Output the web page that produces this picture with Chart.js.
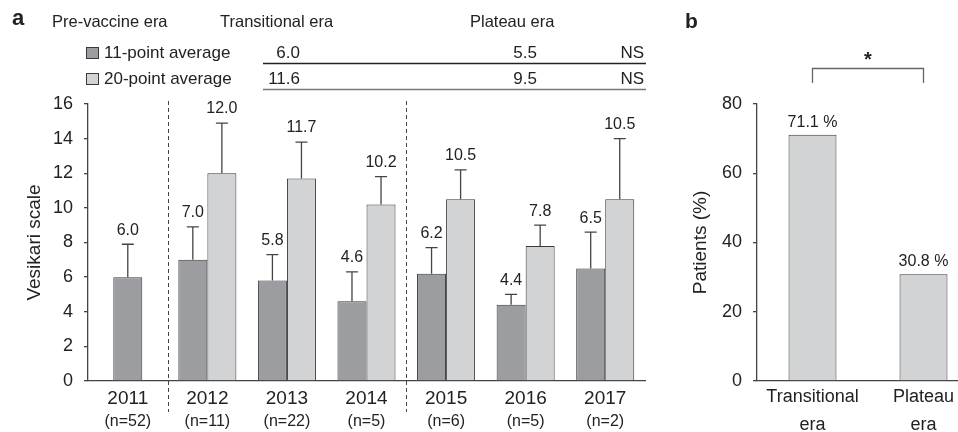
<!DOCTYPE html>
<html><head><meta charset="utf-8">
<script src="https://cdn.jsdelivr.net/npm/chart.js@4.4.1/dist/chart.umd.min.js"></script>
<style>
html,body{margin:0;padding:0;background:#fff;overflow:hidden;width:958px;height:432px;position:relative}
canvas{position:absolute;top:0}
#ca{left:0}
#cb{left:660px}
</style></head>
<body>
<canvas id="ca" width="660" height="432"></canvas>
<canvas id="cb" width="340" height="432"></canvas>
<script>
// ---- Panel a data ----
const years = ['2011','2012','2013','2014','2015','2016','2017'];
const nLabels = ['(n=52)','(n=11)','(n=22)','(n=5)','(n=6)','(n=5)','(n=2)'];
const avg11 = [6.0, 7.0, 5.8, 4.6, 6.2, 4.4, 6.5];
const avg20 = [null, 12.0, 11.7, 10.2, 10.5, 7.8, 10.5];
const sd11 = [1.9, 1.9, 1.5, 1.7, 1.5, 0.6, 2.1];
const sd20 = [null, 2.9, 2.1, 1.6, 1.7, 1.2, 3.5];
const seriesNames = ['11-point average', '20-point average'];
const eraNames = ['Pre-vaccine era', 'Transitional era', 'Plateau era'];
const eraDividersAfter = [0, 3];
const transitionalMeans = ['6.0', '11.6'];
const plateauMeans = ['5.5', '9.5'];
const significance = ['NS', 'NS'];
const yTicksA = [0, 16, 2];
// ---- Panel b data ----
const erasB = [['Transitional', 'era'], ['Plateau', 'era']];
const patientsPct = [71.1, 30.8];
const yTicksB = [0, 80, 20];
const starLabel = '*';

const FONT = '"Liberation Sans", Arial, Helvetica, sans-serif';
const TXT = '#222';
const AX = '#444';
const DARK = '#9c9da1';
const LIGHT = '#d2d3d5';
const EDGE = '#3a3a3a';
Chart.defaults.font.family = FONT;
Chart.defaults.color = TXT;
Chart.defaults.animation = false;

const sdSets = [sd11, sd20];

const errPlugin = {
  id: 'err',
  afterDatasetsDraw(chart) {
    const ctx = chart.ctx, y = chart.scales.y;
    chart.data.datasets.forEach((ds, di) => {
      const meta = chart.getDatasetMeta(di);
      const sd = sdSets[di];
      meta.data.forEach((bar, i) => {
        const v = ds.data[i];
        if (v == null) return;
        const base = y.getPixelForValue(v);
        const top = y.getPixelForValue(v + sd[i]);
        ctx.save();
        ctx.strokeStyle = AX; ctx.lineWidth = 1.3;
        ctx.beginPath();
        ctx.moveTo(bar.x, base); ctx.lineTo(bar.x, top);
        ctx.moveTo(bar.x - 6, top); ctx.lineTo(bar.x + 6, top);
        ctx.stroke();
        ctx.fillStyle = TXT; ctx.font = '16px ' + FONT;
        ctx.textAlign = 'center'; ctx.textBaseline = 'middle';
        ctx.fillText(v.toFixed(1), bar.x, top - 14);
        ctx.restore();
      });
    });
  }
};

const decorA = {
  id: 'decorA',
  afterDraw(chart) {
    const ctx = chart.ctx, x = chart.scales.x, ca = chart.chartArea;
    ctx.save();
    // era dividers
    ctx.strokeStyle = AX; ctx.lineWidth = 1; ctx.setLineDash([4, 3]);
    eraDividersAfter.forEach(i => {
      const px = Math.round((x.getPixelForValue(i) + x.getPixelForValue(i + 1)) / 2) + 0.5;
      ctx.beginPath(); ctx.moveTo(px, ca.top - 3); ctx.lineTo(px, 412); ctx.stroke();
    });
    ctx.setLineDash([]);
    // n labels
    ctx.fillStyle = TXT; ctx.font = '16px ' + FONT; ctx.textAlign = 'center'; ctx.textBaseline = 'middle';
    nLabels.forEach((t, i) => ctx.fillText(t, x.getPixelForValue(i), 422));
    // panel letter
    ctx.textAlign = 'left'; ctx.textBaseline = 'alphabetic';
    ctx.font = 'bold 22px ' + FONT; ctx.fillText('a', 12, 25);
    // era headers
    ctx.font = '16.5px ' + FONT;
    const eraX = [52, 220, 470];
    eraNames.forEach((t, i) => ctx.fillText(t, eraX[i], 27));
    // legend rows
    const rowBase = [58, 84];
    const fills = [DARK, LIGHT];
    ctx.font = '17px ' + FONT;
    seriesNames.forEach((t, r) => {
      ctx.fillStyle = fills[r]; ctx.fillRect(86, rowBase[r] - 11, 13, 12);
      ctx.strokeStyle = EDGE; ctx.lineWidth = 1; ctx.strokeRect(86.5, rowBase[r] - 10.5, 12, 11);
      ctx.fillStyle = TXT; ctx.textAlign = 'left';
      ctx.fillText(t, 104, rowBase[r]);
      ctx.textAlign = 'right';
      ctx.fillText(transitionalMeans[r], 300, rowBase[r]);
      ctx.fillText(plateauMeans[r], 537, rowBase[r]);
      ctx.fillText(significance[r], 644, rowBase[r]);
      ctx.strokeStyle = r === 0 ? '#222' : '#777'; ctx.lineWidth = 1.3;
      ctx.beginPath(); ctx.moveTo(263, rowBase[r] + 5.5); ctx.lineTo(646, rowBase[r] + 5.5); ctx.stroke();
    });
    ctx.restore();
  }
};

new Chart(document.getElementById('ca'), {
  type: 'bar',
  data: {
    labels: years,
    datasets: [
      { label: seriesNames[0], data: avg11, backgroundColor: DARK, borderColor: EDGE, borderWidth: 1,
        categoryPercentage: 0.73, barPercentage: 1, skipNull: true, maxBarThickness: 29 },
      { label: seriesNames[1], data: avg20, backgroundColor: LIGHT, borderColor: EDGE, borderWidth: 1,
        categoryPercentage: 0.73, barPercentage: 1, skipNull: true, maxBarThickness: 29 }
    ]
  },
  options: {
    responsive: false,
    devicePixelRatio: 1,
    layout: { padding: { top: 104, left: 0, right: 15, bottom: 0 } },
    plugins: { legend: { display: false }, tooltip: { enabled: false } },
    scales: {
      x: {
        offset: true,
        grid: { display: false, drawTicks: false },
        border: { display: true, color: AX, width: 1.3 },
        ticks: { font: { size: 19 }, padding: 6, color: TXT, maxRotation: 0, autoSkip: false },
        afterFit(s) { s.height = 51; }
      },
      y: {
        min: yTicksA[0], max: yTicksA[1],
        ticks: { stepSize: yTicksA[2], font: { size: 18 }, padding: 11, color: TXT },
        grid: { drawOnChartArea: false, drawTicks: true, tickLength: 4, color: AX, lineWidth: 1.3 },
        border: { display: true, color: AX, width: 1.3 },
        title: { display: true, text: 'Vesikari scale', font: { size: 19 }, padding: { top: 23, bottom: 0 }, color: TXT },
        afterFit(s) { s.width = 88; }
      }
    }
  },
  plugins: [errPlugin, decorA]
});

const decorB = {
  id: 'decorB',
  afterDraw(chart) {
    const ctx = chart.ctx, meta = chart.getDatasetMeta(0), y = chart.scales.y;
    ctx.save();
    ctx.fillStyle = TXT; ctx.font = '16px ' + FONT; ctx.textAlign = 'center'; ctx.textBaseline = 'middle';
    meta.data.forEach((bar, i) => {
      ctx.fillText(patientsPct[i].toFixed(1) + ' %', bar.x, y.getPixelForValue(patientsPct[i]) - 12.5);
    });
    // bracket
    const x0 = meta.data[0].x, x1 = meta.data[1].x;
    ctx.strokeStyle = '#666'; ctx.lineWidth = 1.3;
    ctx.beginPath(); ctx.moveTo(x0, 83); ctx.lineTo(x0, 68.5); ctx.lineTo(x1, 68.5); ctx.lineTo(x1, 83); ctx.stroke();
    ctx.font = 'bold 20px ' + FONT;
    ctx.fillText(starLabel, (x0 + x1) / 2, 60);
    ctx.textAlign = 'left'; ctx.textBaseline = 'alphabetic';
    ctx.font = 'bold 21px ' + FONT;
    ctx.fillText('b', 25, 28);
    ctx.restore();
  }
};

new Chart(document.getElementById('cb'), {
  type: 'bar',
  data: {
    labels: erasB,
    datasets: [
      { data: patientsPct, backgroundColor: LIGHT, borderColor: EDGE, borderWidth: 1,
        categoryPercentage: 0.432, barPercentage: 1 }
    ]
  },
  options: {
    responsive: false,
    devicePixelRatio: 1,
    layout: { padding: { top: 104, left: 0, right: 21, bottom: 0 } },
    plugins: { legend: { display: false }, tooltip: { enabled: false } },
    scales: {
      x: {
        offset: true,
        grid: { display: false, drawTicks: false },
        border: { display: true, color: AX, width: 1.3 },
        ticks: { font: { size: 18, lineHeight: 1.55 }, padding: 2, color: TXT, maxRotation: 0, autoSkip: false },
        afterFit(s) { s.height = 51; }
      },
      y: {
        min: yTicksB[0], max: yTicksB[1],
        ticks: { stepSize: yTicksB[2], font: { size: 18 }, padding: 11, color: TXT },
        grid: { drawOnChartArea: false, drawTicks: true, tickLength: 4, color: AX, lineWidth: 1.3 },
        border: { display: true, color: AX, width: 1.3 },
        title: { display: true, text: 'Patients (%)', font: { size: 19 }, padding: { top: 29, bottom: 0 }, color: TXT },
        afterFit(s) { s.width = 97; }
      }
    }
  },
  plugins: [decorB]
});
</script>
</body></html>
